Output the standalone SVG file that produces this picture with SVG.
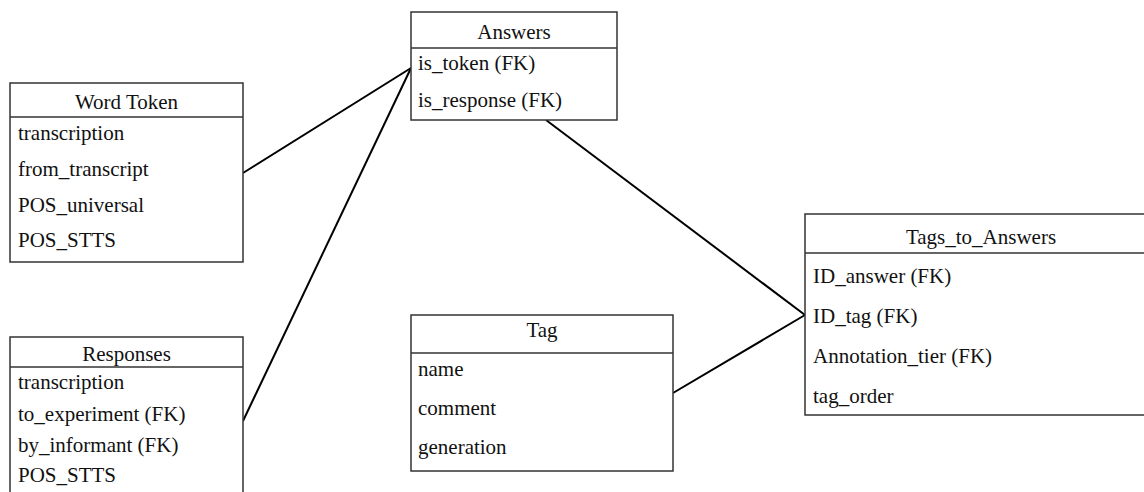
<svg xmlns="http://www.w3.org/2000/svg" width="1144" height="492" viewBox="0 0 1144 492">
<style>
.box{fill:#fff;stroke:#333;stroke-width:1.5}
.sep{stroke:#333;stroke-width:1.5}
text{font-family:'Liberation Serif','Times New Roman','DejaVu Serif',serif;font-size:21px;fill:#111}
.h{text-anchor:middle}
.c{fill:none;stroke:#000;stroke-width:2}
</style>
<rect width="1144" height="492" fill="#fff"/>
<g id="connectors">
<line class="c" x1="243" y1="173" x2="411" y2="68"/>
<line class="c" x1="243" y1="421" x2="411" y2="68"/>
<line class="c" x1="546" y1="120" x2="805" y2="315"/>
<line class="c" x1="673" y1="393" x2="805" y2="315"/>
</g>
<g id="word-token" font-family="Liberation Serif, serif" font-size="21">
<rect class="box" x="10" y="83" width="233" height="179"/>
<line class="sep" x1="10" y1="117" x2="243" y2="117"/>
<text class="h" x="126.5" y="109">Word Token</text>
<text x="18" y="140">transcription</text>
<text x="18" y="176">from_transcript</text>
<text x="18" y="212">POS_universal</text>
<text x="18" y="247">POS_STTS</text>
</g>
<g id="responses" font-family="Liberation Serif, serif" font-size="21">
<rect class="box" x="10" y="337" width="233" height="170"/>
<line class="sep" x1="10" y1="367" x2="243" y2="367"/>
<text class="h" x="126.5" y="361">Responses</text>
<text x="18" y="389">transcription</text>
<text x="18" y="421">to_experiment (FK)</text>
<text x="18" y="452">by_informant (FK)</text>
<text x="18" y="482">POS_STTS</text>
</g>
<g id="answers" font-family="Liberation Serif, serif" font-size="21">
<rect class="box" x="411" y="12" width="206" height="108"/>
<line class="sep" x1="411" y1="48" x2="617" y2="48"/>
<text class="h" x="514" y="39">Answers</text>
<text x="418" y="70">is_token (FK)</text>
<text x="418" y="107">is_response (FK)</text>
</g>
<g id="tag" font-family="Liberation Serif, serif" font-size="21">
<rect class="box" x="411" y="315" width="262" height="156"/>
<line class="sep" x1="411" y1="353" x2="673" y2="353"/>
<text class="h" x="542" y="337">Tag</text>
<text x="418" y="376">name</text>
<text x="418" y="415">comment</text>
<text x="418" y="454">generation</text>
</g>
<g id="tags-to-answers" font-family="Liberation Serif, serif" font-size="21">
<rect class="box" x="805" y="214" width="360" height="201"/>
<line class="sep" x1="805" y1="253" x2="1165" y2="253"/>
<text class="h" x="981" y="244">Tags_to_Answers</text>
<text x="813" y="283">ID_answer (FK)</text>
<text x="813" y="323">ID_tag (FK)</text>
<text x="813" y="363">Annotation_tier (FK)</text>
<text x="813" y="403">tag_order</text>
</g>
</svg>
